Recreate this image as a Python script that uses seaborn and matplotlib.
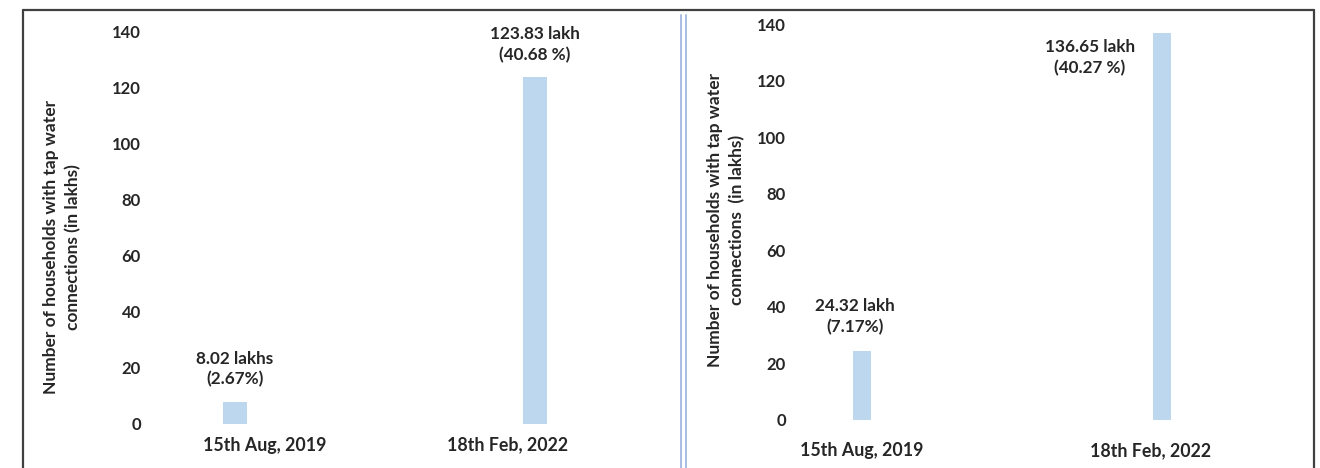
import matplotlib
matplotlib.use("Agg")
import matplotlib.pyplot as plt
from matplotlib.lines import Line2D
import pandas as pd
import seaborn as sns

# Data: households with tap water connections (in lakhs)
dates = ["15th Aug, 2019", "18th Feb, 2022"]
left_values = [8.02, 123.83]
left_labels = ["8.02 lakhs\n(2.67%)", "123.83 lakh\n(40.68 %)"]
right_values = [24.32, 136.65]
right_labels = ["24.32 lakh\n(7.17%)", "136.65 lakh\n(40.27 %)"]
y_ticks = [0, 20, 40, 60, 80, 100, 120, 140]
y_title_left = "Number of households with tap water\nconnections (in lakhs)"
y_title_right = "Number of households with tap water\nconnections  (in lakhs)"

sns.set_style("white")
plt.rcParams["font.family"] = ["Lato", "DejaVu Sans"]
plt.rcParams["font.weight"] = "bold"

TEXT = "#262626"
BAR = "#BDD7EE"
W, H = 1320, 468
fig = plt.figure(figsize=(W / 100, H / 100), dpi=100)


def px_axes(x0, x1, ytop, ybot):
    return fig.add_axes([x0 / W, (H - ybot) / H, (x1 - x0) / W, (ybot - ytop) / H])


def draw_panel(ax, values, labels, width, xlim, tick_pos, tick_pad,
               ann_offsets, ann_align):
    df = pd.DataFrame({"date": dates, "value": values})
    sns.barplot(data=df, x="date", y="value", color=BAR, width=width,
                saturation=1, ax=ax, edgecolor="none")
    ax.set_xlim(*xlim)
    ax.set_ylim(0, 140)
    ax.set_yticks(y_ticks)
    ax.set_yticklabels([str(t) for t in y_ticks], fontsize=12, color=TEXT,
                       fontweight="bold")
    ax.set_xticks(tick_pos)
    ax.set_xticklabels(dates, fontsize=12.8, color=TEXT, fontweight="bold")
    ax.tick_params(axis="y", length=0, pad=6.5)
    ax.tick_params(axis="x", length=0, pad=tick_pad)
    for s in ax.spines.values():
        s.set_visible(False)
    ax.set_xlabel("")
    ax.set_ylabel("")
    ax.grid(False)
    for i, (v, lab) in enumerate(zip(values, labels)):
        dx, dy = ann_offsets[i]
        ha, va = ann_align[i]
        ax.annotate(lab, xy=(i, v), xytext=(dx, dy), textcoords="offset pixels",
                    ha=ha, va=va, fontsize=12.3, color=TEXT, fontweight="bold",
                    multialignment="center", linespacing=1.35)


# Left panel: 300 px per category, bar centres at x=235 and x=535
axL = px_axes(150, 660, 32, 424)
draw_panel(axL, left_values, left_labels, 0.08,
           ((150 - 235) / 300, (660 - 235) / 300),
           [0.1, 0.907], 9,
           [(0, 14), (0, 14)],
           [("center", "bottom"), ("center", "bottom")])

# Right panel: bar centres at x=862 and x=1162
axR = px_axes(795, 1300, 24, 420)
draw_panel(axR, right_values, right_labels, 0.063,
           ((795 - 862) / 300, (1300 - 862) / 300),
           [0.0, 0.963], 16,
           [(-7, 16), (-72, -6)],
           [("center", "bottom"), ("center", "top")])

# Axis titles
fig.text(62 / W, (H - 247) / H, y_title_left, rotation=90, ha="center",
         va="center", fontsize=12.5, color=TEXT, fontweight="bold",
         linespacing=1.4)
fig.text(726 / W, (H - 220) / H, y_title_right, rotation=90, ha="center",
         va="center", fontsize=12.5, color=TEXT, fontweight="bold",
         linespacing=1.4)

# Outer frame (open at the bottom) and the double divider between panels
frame = "#404040"
fig.add_artist(Line2D([22.5 / W, 1313.5 / W], [(H - 10) / H, (H - 10) / H],
                      color=frame, lw=1.6, transform=fig.transFigure))
fig.add_artist(Line2D([22.5 / W, 22.5 / W], [0, (H - 10) / H],
                      color=frame, lw=1.6, transform=fig.transFigure))
fig.add_artist(Line2D([1313.5 / W, 1313.5 / W], [0, (H - 10) / H],
                      color=frame, lw=1.6, transform=fig.transFigure))
for xd in (681, 685.5):
    fig.add_artist(Line2D([xd / W, xd / W], [0, (H - 15) / H],
                          color="#A7BDE3", lw=1.4, transform=fig.transFigure))

fig.savefig("out.png", dpi=100)
